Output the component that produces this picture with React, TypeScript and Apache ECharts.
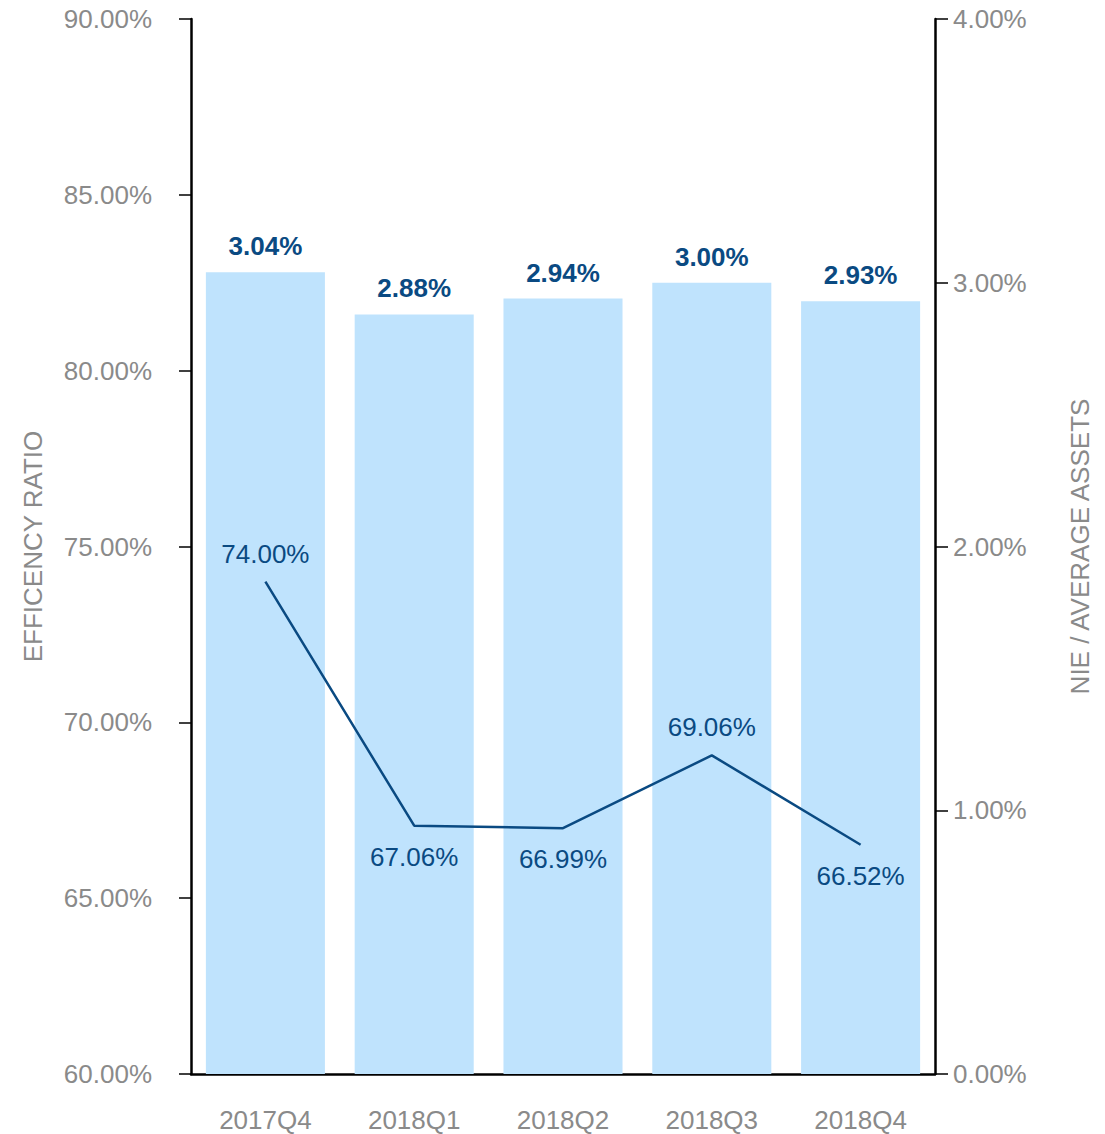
import React, { useEffect, useRef } from "react";
import * as echarts from "echarts";

const categories = ["2017Q4", "2018Q1", "2018Q2", "2018Q3", "2018Q4"];
const nieAvgAssets = [3.04, 2.88, 2.94, 3.0, 2.93];
const efficiencyRatio = [74.0, 67.06, 66.99, 69.06, 66.52];
const lineLabelPositions = ["top", "bottom", "bottom", "top", "bottom"];

const FONT = "Liberation Sans, Arial, sans-serif";
const GRAY = "#8a8a8a";
const DARK = "#0a4a82";

export default function App() {
  const ref = useRef<HTMLDivElement>(null);
  useEffect(() => {
    if (!ref.current) return;
    const chart = echarts.init(ref.current, null, { renderer: "svg" });
    chart.setOption({
      animation: false,
      grid: { left: 191, right: 170, top: 19, bottom: 60 },
      xAxis: {
        type: "category",
        data: categories,
        axisLine: { lineStyle: { color: "#000", width: 2.5 } },
        axisTick: { alignWithLabel: true, length: 12, lineStyle: { color: "#444", width: 1.5 } },
        axisLabel: { color: GRAY, fontSize: 26, fontFamily: FONT, margin: 33 },
      },
      yAxis: [
        {
          type: "value",
          min: 60,
          max: 90,
          interval: 5,
          position: "left",
          name: "EFFICENCY RATIO",
          nameLocation: "middle",
          nameGap: 145,
          nameRotate: 90,
          nameTextStyle: { color: GRAY, fontSize: 26, fontFamily: FONT },
          axisLine: { show: true, lineStyle: { color: "#000", width: 2.5 } },
          axisTick: { show: true, length: 12, lineStyle: { color: "#000", width: 1.5 } },
          splitLine: { show: false },
          axisLabel: {
            color: GRAY,
            fontSize: 26,
            fontFamily: FONT,
            margin: 39,
            formatter: (v: number) => v.toFixed(2) + "%",
          },
        },
        {
          type: "value",
          min: 0,
          max: 4,
          interval: 1,
          position: "right",
          name: "NIE / AVERAGE ASSETS",
          nameLocation: "middle",
          nameGap: 132,
          nameRotate: 90,
          nameTextStyle: { color: GRAY, fontSize: 26, fontFamily: FONT },
          axisLine: { show: true, lineStyle: { color: "#000", width: 2.5 } },
          axisTick: { show: true, length: 13, lineStyle: { color: "#000", width: 1.5 } },
          splitLine: { show: false },
          axisLabel: {
            color: GRAY,
            fontSize: 26,
            fontFamily: FONT,
            margin: 18,
            formatter: (v: number) => v.toFixed(2) + "%",
          },
        },
      ],
      series: [
        {
          type: "bar",
          yAxisIndex: 1,
          data: nieAvgAssets,
          barCategoryGap: "20%",
          itemStyle: { color: "#bfe3fd" },
          label: {
            show: true,
            position: "top",
            distance: 13,
            color: DARK,
            fontSize: 26,
            fontWeight: "bold",
            fontFamily: FONT,
            formatter: (p: any) => p.value.toFixed(2) + "%",
          },
          z: 1,
        },
        {
          type: "line",
          yAxisIndex: 0,
          data: efficiencyRatio.map((v, i) => ({
            value: v,
            label: {
              show: true,
              position: lineLabelPositions[i],
              distance: lineLabelPositions[i] === "top" ? 14 : 17,
            },
          })),
          showSymbol: true,
          symbol: "circle",
          symbolSize: 2,
          itemStyle: { color: "rgba(0,0,0,0)", borderWidth: 0 },
          lineStyle: { color: DARK, width: 2.5 },
          label: {
            show: true,
            color: DARK,
            fontSize: 26,
            fontFamily: FONT,
            formatter: (p: any) => Number(p.value).toFixed(2) + "%",
          },
          z: 3,
        },
      ],
    });
    return () => chart.dispose();
  }, []);
  return <div ref={ref} style={{ width: 1105, height: 1134, marginLeft: -8, marginTop: -8 }} />;
}
